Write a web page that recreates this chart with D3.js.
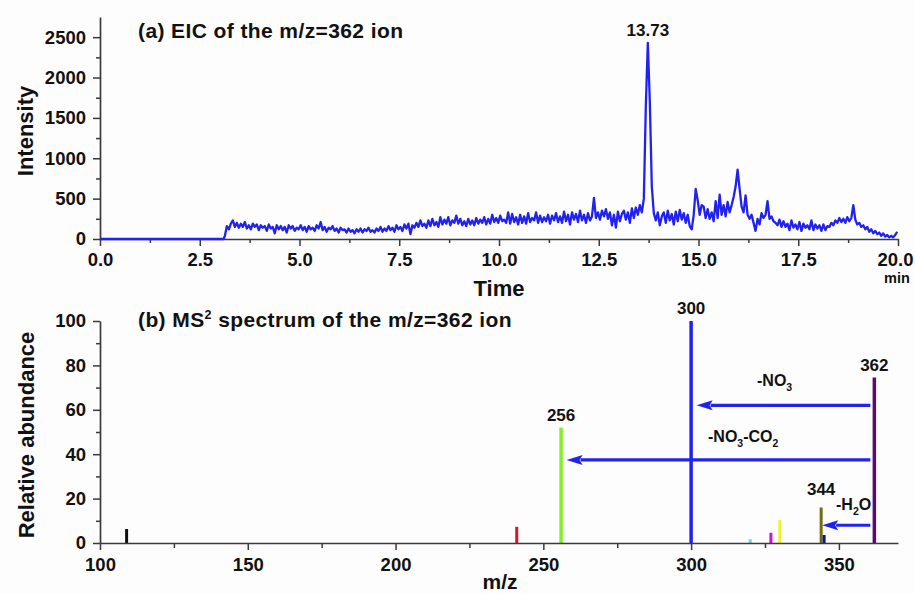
<!DOCTYPE html>
<html><head><meta charset="utf-8">
<script src="https://cdn.jsdelivr.net/npm/d3@7"></script>
<style>
body{margin:0;background:#fdfdfd}
svg{display:block}
text{font-family:Arial,"Liberation Sans",sans-serif;font-weight:bold;fill:#111}
</style>
</head><body>
<svg id="c" width="915" height="594"></svg>
<script>
// ---------- Panel (a): EIC data ----------
const eicLeadTimes = [0, 3.1];
const eicLeadValues = [0, 0];
const eicStart = 3.13, eicStep = 0.05;
const eicValues = [
 40,160,120,190,230,150,200,140,190,150,210,130,170,120,190,150,180,110,170,140,
 160,100,180,130,150,70,170,120,160,110,150,80,170,130,160,100,140,120,170,110,
 150,90,160,120,140,100,170,130,210,110,150,90,140,120,160,100,130,80,140,110,
 120,80,130,90,110,70,120,90,130,80,120,100,140,90,110,80,130,100,150,90,
 130,100,160,110,140,90,170,120,150,100,180,130,190,60,170,140,200,150,230,160,
 190,140,230,160,250,170,210,150,270,180,240,190,270,170,230,200,290,190,250,170,
 220,160,250,180,230,170,260,190,240,200,270,180,250,190,300,210,260,200,290,220,
 240,200,330,190,310,210,270,180,300,200,280,190,320,210,260,230,330,200,290,210,
 270,220,300,190,290,230,320,210,280,200,340,220,300,180,330,240,310,210,350,230,
 300,200,320,230,280,510,260,330,240,350,280,370,250,330,170,300,140,340,220,310,
 350,240,330,200,380,260,390,300,420,330,500,1650,2430,1700,650,320,230,330,170,280,
 330,200,350,230,310,180,340,220,360,240,320,200,300,160,120,300,620,480,300,420,
 400,260,370,250,330,220,470,260,550,300,420,280,460,330,420,520,650,860,620,400,
 330,540,300,250,300,200,100,250,180,320,260,300,470,250,280,220,200,170,240,150,
 220,150,190,110,230,140,180,120,210,100,190,140,170,120,230,110,180,130,170,100,
 180,110,160,150,200,170,230,200,260,210,250,200,270,220,260,420,240,180,200,150,
 170,120,150,90,120,70,100,60,80,40,70,30,50,20,40,20,50,90
];
const eicXTicks = [0, 2.5, 5, 7.5, 10, 12.5, 15, 17.5, 20];
const eicXMinor = [1.25, 3.75, 6.25, 8.75, 11.25, 13.75, 16.25, 18.75];
const eicYTicks = [0, 500, 1000, 1500, 2000, 2500];
const eicYMinor = [250, 750, 1250, 1750, 2250];
const peakRT = 13.73, peakValue = 2430;

// ---------- Panel (b): MS2 spectrum data ----------
const msMz =     [109, 241, 256, 300, 320, 327, 330, 344, 345, 362];
const msAbund =  [6.3, 7.3, 52, 100, 1.7, 4.6, 10.3, 16, 3.6, 74.5];
const msColors = ["#111111","#d8142a","#84ee2a","#2222f0","#5fe0e0","#c21cc8","#f2f22a","#6e6e14","#14148a","#5a0c6e"];
const msLabeled = [256, 300, 344, 362];
const msXTicks = [100, 150, 200, 250, 300, 350];
const msXMinor = [125, 175, 225, 275, 325];
const msYTicks = [0, 20, 40, 60, 80, 100];
const msYMinor = [10, 30, 50, 70, 90];
const lossFrom = [362, 362, 362];
const lossTo = [300, 256, 344];
const lossLevel = [62, 37.4, 8];
const lossLabels = [["-NO","3"], ["-NO","3","-CO","2"], ["-H","2","O"]];

// ---------- drawing ----------
const svg = d3.select("#c");
const axisColor = "#3a3a3a";
const traceBlue = "#2222f0";
const TICK_FS = 18.5;

function styleAxis(g, fs) {
  g.selectAll("path.domain").attr("stroke", axisColor).attr("stroke-width", 1.7);
  g.selectAll(".tick line").attr("stroke", axisColor).attr("stroke-width", 1.5);
  g.selectAll(".tick text").attr("fill", "#111").attr("font-size", fs)
    .attr("font-family", "Arial, 'Liberation Sans', sans-serif").attr("font-weight", "bold");
}

// Panel a scales
const xT = d3.scaleLinear([0, 20], [100, 898]);
const yT = d3.scaleLinear([0, 2750], [239, 17]);

const gA = svg.append("g");
gA.append("g").attr("transform", `translate(0,${yT(0)})`)
  .call(d3.axisBottom(xT).tickValues(eicXMinor).tickSize(4).tickFormat(""))
  .call(g => { g.select(".domain").remove(); styleAxis(g, TICK_FS); });
gA.append("g").attr("transform", `translate(${xT(0)},0)`)
  .call(d3.axisLeft(yT).tickValues(eicYMinor).tickSize(4).tickFormat(""))
  .call(g => { g.select(".domain").remove(); styleAxis(g, TICK_FS); });
gA.append("g").attr("transform", `translate(0,${yT(0)})`)
  .call(d3.axisBottom(xT).tickValues(eicXTicks).tickSize(7).tickSizeOuter(0).tickPadding(7).tickFormat(d3.format(".1f")))
  .call(g => {
    styleAxis(g, TICK_FS);
    g.selectAll(".tick text").filter(d => d === 20).attr("dx", -3);
  });
gA.append("g").attr("transform", `translate(${xT(0)},0)`)
  .call(d3.axisLeft(yT).tickValues(eicYTicks).tickSize(7).tickSizeOuter(0).tickPadding(7).tickFormat(d3.format("d")))
  .call(g => styleAxis(g, TICK_FS));

const eicPts = eicLeadTimes.map((t, i) => [t, eicLeadValues[i]])
  .concat(eicValues.map((v, i) => [eicStart + i * eicStep, v]));
gA.append("path").datum(eicPts)
  .attr("fill", "none").attr("stroke", traceBlue).attr("stroke-width", 2.3).attr("stroke-linejoin", "round")
  .attr("d", d3.line().x(d => xT(d[0])).y(d => yT(d[1])));

gA.append("text").attr("x", xT(peakRT)).attr("y", yT(peakValue) - 7).attr("text-anchor", "middle")
  .attr("font-size", 17).text(peakRT.toFixed(2));
gA.append("text").attr("x", 138).attr("y", 38).attr("font-size", 21).attr("letter-spacing", 0.4)
  .text("(a) EIC of the m/z=362 ion");
gA.append("text").attr("transform", "translate(33,131) rotate(-90)").attr("text-anchor", "middle")
  .attr("font-size", 22).text("Intensity");
gA.append("text").attr("x", 499).attr("y", 296).attr("text-anchor", "middle").attr("font-size", 22).text("Time");
gA.append("text").attr("x", 884).attr("y", 283).attr("font-size", 14.5).text("min");

// Panel b scales
const xM = d3.scaleLinear([100, 370], [100, 898]);
const yM = d3.scaleLinear([0, 100], [543, 321]);

const gB = svg.append("g");
gB.append("g").attr("transform", `translate(0,${yM(0)})`)
  .call(d3.axisBottom(xM).tickValues(msXMinor).tickSize(5).tickFormat(""))
  .call(g => { g.select(".domain").remove(); styleAxis(g, TICK_FS); });
gB.append("g").attr("transform", `translate(${xM(100)},0)`)
  .call(d3.axisLeft(yM).tickValues(msYMinor).tickSize(4).tickFormat(""))
  .call(g => { g.select(".domain").remove(); styleAxis(g, TICK_FS); });

gB.selectAll("line.bar").data(msMz).enter().append("line").attr("class", "bar")
  .attr("x1", d => xM(d)).attr("x2", d => xM(d))
  .attr("y1", yM(0)).attr("y2", (d, i) => yM(msAbund[i]))
  .attr("stroke", (d, i) => msColors[i]).attr("stroke-width", (d, i) => msAbund[i] > 40 ? 3.5 : 3);

gB.append("g").attr("transform", `translate(0,${yM(0)})`)
  .call(d3.axisBottom(xM).tickValues(msXTicks).tickSize(7).tickSizeOuter(0).tickPadding(8))
  .call(g => styleAxis(g, TICK_FS));
gB.append("g").attr("transform", `translate(${xM(100)},0)`)
  .call(d3.axisLeft(yM).tickValues(msYTicks).tickSize(7).tickSizeOuter(0).tickPadding(7))
  .call(g => styleAxis(g, TICK_FS));

msLabeled.forEach(mz => {
  const i = msMz.indexOf(mz);
  gB.append("text").attr("x", xM(mz)).attr("y", yM(msAbund[i]) - (mz === 344 ? 12 : 7))
    .attr("text-anchor", "middle").attr("font-size", 17).text(mz);
});

lossFrom.forEach((f, i) => {
  const y = yM(lossLevel[i]);
  const x0 = xM(f) - 4;
  const tip = xM(lossTo[i]) + (i < 2 ? 5.5 : 1);
  const hl = 16, hw = 5;
  gB.append("line").attr("x1", x0).attr("x2", tip + hl - 2).attr("y1", y).attr("y2", y)
    .attr("stroke", traceBlue).attr("stroke-width", 3.2);
  gB.append("path").attr("d", `M${tip},${y}L${tip + hl},${y - hw}L${tip + hl - 3},${y}L${tip + hl},${y + hw}Z`)
    .attr("fill", traceBlue);
});

function subLabel(x, y, parts) {
  const t = gB.append("text").attr("x", x).attr("y", y).attr("font-size", 16);
  parts.forEach((p, k) => {
    const sub = k % 2 === 1;
    t.append("tspan").attr("font-size", sub ? 10.5 : 16).attr("dy", k === 0 ? 0 : (sub ? 5 : -5)).text(p);
  });
}
subLabel(757, 386, lossLabels[0]);
subLabel(708, 442, lossLabels[1]);
subLabel(836, 510, lossLabels[2]);

const tb = gB.append("text").attr("x", 138).attr("y", 327).attr("font-size", 21).attr("letter-spacing", 0.4);
tb.append("tspan").text("(b) MS");
tb.append("tspan").attr("font-size", 12.5).attr("dy", -8).text("2");
tb.append("tspan").attr("dy", 8).text(" spectrum of the m/z=362 ion");
gB.append("text").attr("transform", "translate(34,435) rotate(-90)").attr("text-anchor", "middle")
  .attr("font-size", 22).text("Relative abundance");
gB.append("text").attr("x", 500).attr("y", 589).attr("text-anchor", "middle").attr("font-size", 21).text("m/z");
</script>
</body></html>
